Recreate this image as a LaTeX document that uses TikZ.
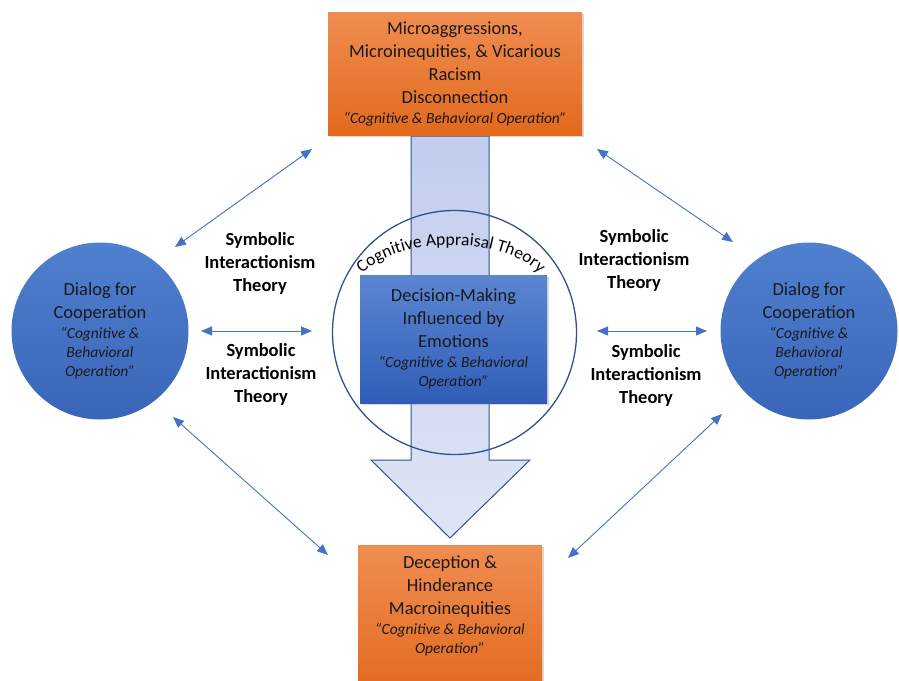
\documentclass[tikz,border=0pt]{standalone}
\usepackage{fontspec}
\setmainfont{Carlito}
\usetikzlibrary{arrows.meta,decorations.text,shadows}
\definecolor{Ink}{HTML}{1A1A1A}
\definecolor{OrangeTop}{HTML}{F08D52}
\definecolor{OrangeBot}{HTML}{E2691D}
\definecolor{BlueTop}{HTML}{5080D0}
\definecolor{BlueBot}{HTML}{3A65B8}
\definecolor{BoxTop}{HTML}{5C86D2}
\definecolor{BoxBot}{HTML}{305DB8}
\definecolor{ShaftTop}{HTML}{C2CDEE}
\definecolor{ShaftBot}{HTML}{DFE5F6}
\definecolor{Navy}{HTML}{2F528F}
\definecolor{Link}{HTML}{4472C4}
\newcommand{\txtmain}{\fontsize{18.5}{23}\selectfont}
\newcommand{\txtop}{\fontsize{15.5}{19}\selectfont\itshape}
\newcommand{\txtarc}{\fontsize{17.5}{20}\selectfont}
\tikzset{
  orangebox/.style={
    rectangle, top color=OrangeTop, bottom color=OrangeBot, text=Ink,
    align=center, inner sep=0pt, font=\txtmain,
    drop shadow={shadow xshift=1.5pt, shadow yshift=-2pt, opacity=0.3}
  },
  bluebox/.style={
    rectangle, top color=BoxTop, bottom color=BoxBot, text=Ink,
    align=center, inner sep=0pt, font=\txtmain,
    drop shadow={shadow xshift=1.5pt, shadow yshift=-2pt, opacity=0.3}
  },
  boxtext/.style={align=center, text=Ink, font=\txtmain},
  dialog/.style={
    circle, top color=BlueTop, bottom color=BlueBot, text=Ink,
    minimum size=177pt, inner sep=0pt, align=center, font=\txtmain
  },
  theory/.style={align=center, text=black, font=\txtmain\bfseries},
  link/.style={
    {Triangle[length=11pt,width=9pt]}-{Triangle[length=11pt,width=9pt]},
    draw=Link, line width=0.9pt
  }
}

\begin{document}
\begin{tikzpicture}[x=1pt,y=-1pt]
  \useasboundingbox (0,0) rectangle (899,680);

  % broad arrow down the middle
  \draw[Navy, line width=1pt, top color=ShaftTop, bottom color=ShaftBot]
    (411,136) -- (489,136) -- (489,460) -- (530,460) -- (450,538)
    -- (371,460) -- (411,460) -- cycle;

  % appraisal ring with its arched title
  \node[circle, draw=Navy, line width=1.3pt, minimum size=244pt] (appraisal) at (454.5,332.5) {};
  \coordinate (archub) at (451,295);
  \path[decorate, decoration={text along path, text align=center,
      text={|\txtarc|Cognitive Appraisal Theory}}]
    ([shift={(172:98pt and 50pt)}]archub)
      arc[start angle=172, end angle=8, x radius=98pt, y radius=50pt];

  \node[bluebox, minimum width=187pt, minimum height=128pt] (decision) at (453.5,339)
    {Decision-Making\\Influenced by\\Emotions\\[-3pt]
     \txtop “Cognitive \& Behavioral\\[-4pt]\txtop Operation”};

  \node[orangebox, minimum width=254pt, minimum height=123pt] (micro) at (455,73.5)
    {Microaggressions,\\Microinequities, \& Vicarious\\Racism\\Disconnection\\[-3pt]
     \txtop “Cognitive \& Behavioral Operation”};

  \node[orangebox, anchor=north, minimum width=184pt, minimum height=150pt] (deception) at (450,545) {};
  \node[boxtext] (deceptiontext) at (450,606)
    {Deception \&\\Hinderance\\Macroinequities\\[-3pt]
     \txtop “Cognitive \& Behavioral\\[-4pt]\txtop Operation”};

  \node[dialog] (dialogL) at (100,331)
    {Dialog for\\Cooperation\\[-3pt]\txtop “Cognitive \&\\[-4pt]\txtop Behavioral\\[-4pt]\txtop Operation”};
  \node[dialog] (dialogR) at (809,331)
    {Dialog for\\Cooperation\\[-3pt]\txtop “Cognitive \&\\[-4pt]\txtop Behavioral\\[-4pt]\txtop Operation”};

  \node[theory] (symNW) at (260,263) {Symbolic\\Interactionism\\Theory};
  \node[theory] (symW) at (261,374) {Symbolic\\Interactionism\\Theory};
  \node[theory] (symNE) at (634,260) {Symbolic\\Interactionism\\Theory};
  \node[theory] (symE) at (646,375) {Symbolic\\Interactionism\\Theory};

  % free ends of the two-way links
  \coordinate (nwA) at (312,149);
  \coordinate (nwB) at (175,247);
  \coordinate (neA) at (597,149);
  \coordinate (neB) at (733,242);
  \coordinate (wA) at (201,331);
  \coordinate (wB) at (312,331);
  \coordinate (eA) at (597,331);
  \coordinate (eB) at (707,331);
  \coordinate (swA) at (173,417);
  \coordinate (swB) at (328,555);
  \coordinate (seA) at (722,414);
  \coordinate (seB) at (568,558);

  \draw[link] (nwA) -- (nwB);
  \draw[link] (neA) -- (neB);
  \draw[link] (wA) -- (wB);
  \draw[link] (eA) -- (eB);
  \draw[link] (swA) -- (swB);
  \draw[link] (seA) -- (seB);
\end{tikzpicture}
\end{document}
